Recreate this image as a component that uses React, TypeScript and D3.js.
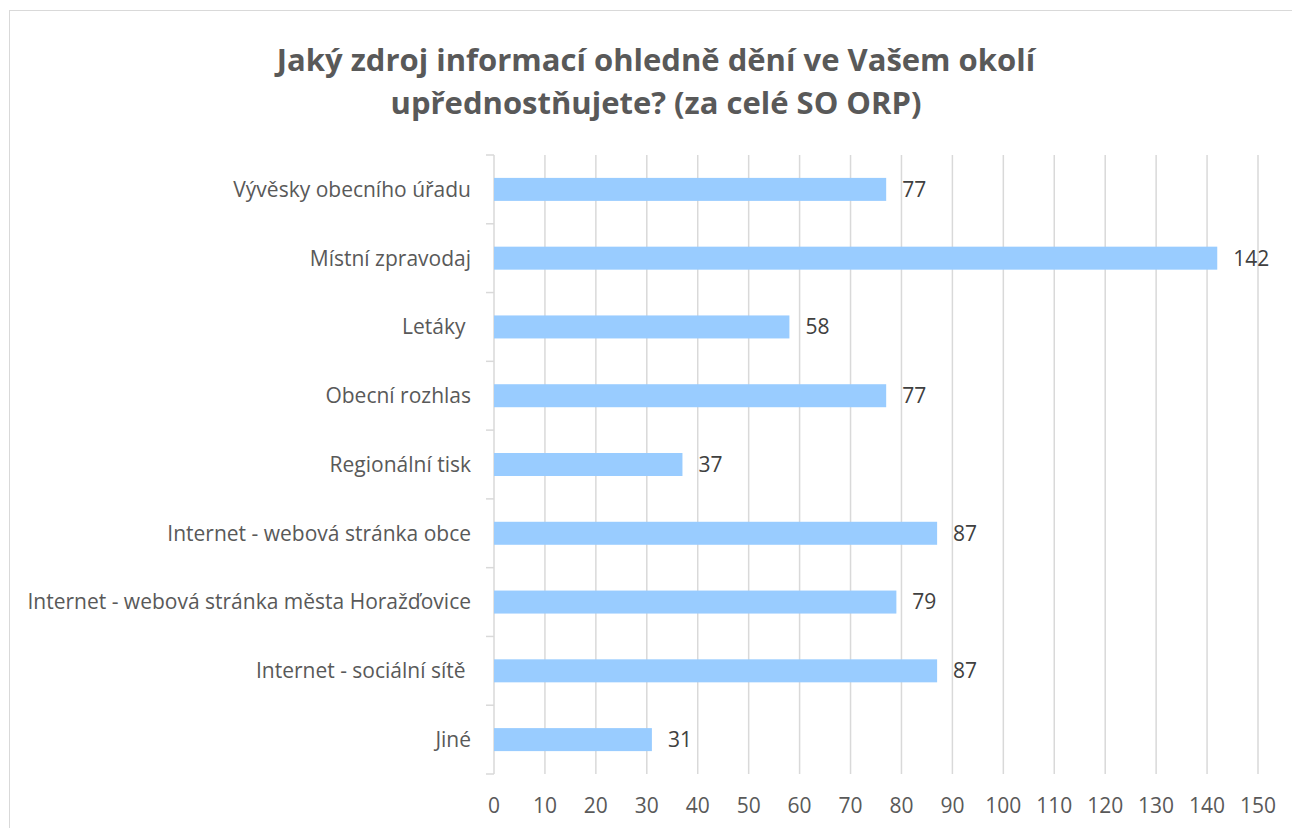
import { scaleLinear, scaleBand, range } from "d3";

const categories = [
  "Vývěsky obecního úřadu",
  "Místní zpravodaj",
  "Letáky ",
  "Obecní rozhlas",
  "Regionální tisk",
  "Internet - webová stránka obce",
  "Internet - webová stránka města Horažďovice",
  "Internet - sociální sítě ",
  "Jiné",
];
const values = [77, 142, 58, 77, 37, 87, 79, 87, 31];
const xTicks = range(0, 151, 10);
const titleLines = [
  "Jaký zdroj informací ohledně dění ve Vašem okolí",
  "upřednostňujete? (za celé SO ORP)",
];

const W = 1292;
const H = 828;
const margin = { top: 155, right: 34, bottom: 54, left: 494 };
const font = "'Open Sans', sans-serif";

export default function App() {
  const x = scaleLinear()
    .domain([0, 150])
    .range([margin.left, W - margin.right]);
  const y = scaleBand()
    .domain(categories)
    .range([margin.top, H - margin.bottom])
    .paddingInner(0)
    .paddingOuter(0);
  const barH = 23;
  const bounds = categories.map((c) => y(c) as number).concat([H - margin.bottom]);

  return (
    <svg
      width={W}
      height={H}
      style={{ position: "absolute", left: 0, top: 0, background: "#fff", fontFamily: font }}
    >
      <rect x={9.5} y={10.5} width={W + 20} height={H + 20} fill="#fff" stroke="#d9d9d9" />
      {titleLines.map((t, i) => (
        <text
          key={i}
          x={656}
          y={71 + i * 43}
          textAnchor="middle"
          fontSize={31}
          fontWeight="bold"
          fill="#595959"
        >
          {t}
        </text>
      ))}
      {/* gridlines */}
      {xTicks.map((t) => (
        <line
          key={t}
          x1={x(t)}
          x2={x(t)}
          y1={margin.top}
          y2={H - margin.bottom}
          stroke="#d9d9d9"
          strokeWidth={1.5}
        />
      ))}
      {/* category ticks */}
      {bounds.map((b, i) => (
        <line key={i} x1={margin.left - 8} x2={margin.left} y1={b} y2={b} stroke="#d9d9d9" strokeWidth={1.5} />
      ))}
      {/* bars */}
      {categories.map((c, i) => (
        <rect
          key={c}
          x={x(0)}
          y={(y(c) as number) + y.bandwidth() / 2 - barH / 2}
          width={x(values[i]) - x(0)}
          height={barH}
          fill="#99ccff"
        />
      ))}
      {/* value labels */}
      {categories.map((c, i) => (
        <text
          key={c}
          x={x(values[i]) + 16}
          y={(y(c) as number) + y.bandwidth() / 2}
          dy="0.35em"
          fontSize={21}
          fill="#404040"
        >
          {values[i]}
        </text>
      ))}
      {/* category labels */}
      {categories.map((c) => (
        <text
          key={c}
          x={471}
          y={(y(c) as number) + y.bandwidth() / 2}
          dy="0.35em"
          textAnchor="end"
          fontSize={21}
          fill="#595959"
          style={{ whiteSpace: "pre" }}
        >
          {c}
        </text>
      ))}
      {/* x tick labels */}
      {xTicks.map((t) => (
        <text key={t} x={x(t)} y={806} dy="0.35em" textAnchor="middle" fontSize={21} fill="#595959">
          {t}
        </text>
      ))}
    </svg>
  );
}
